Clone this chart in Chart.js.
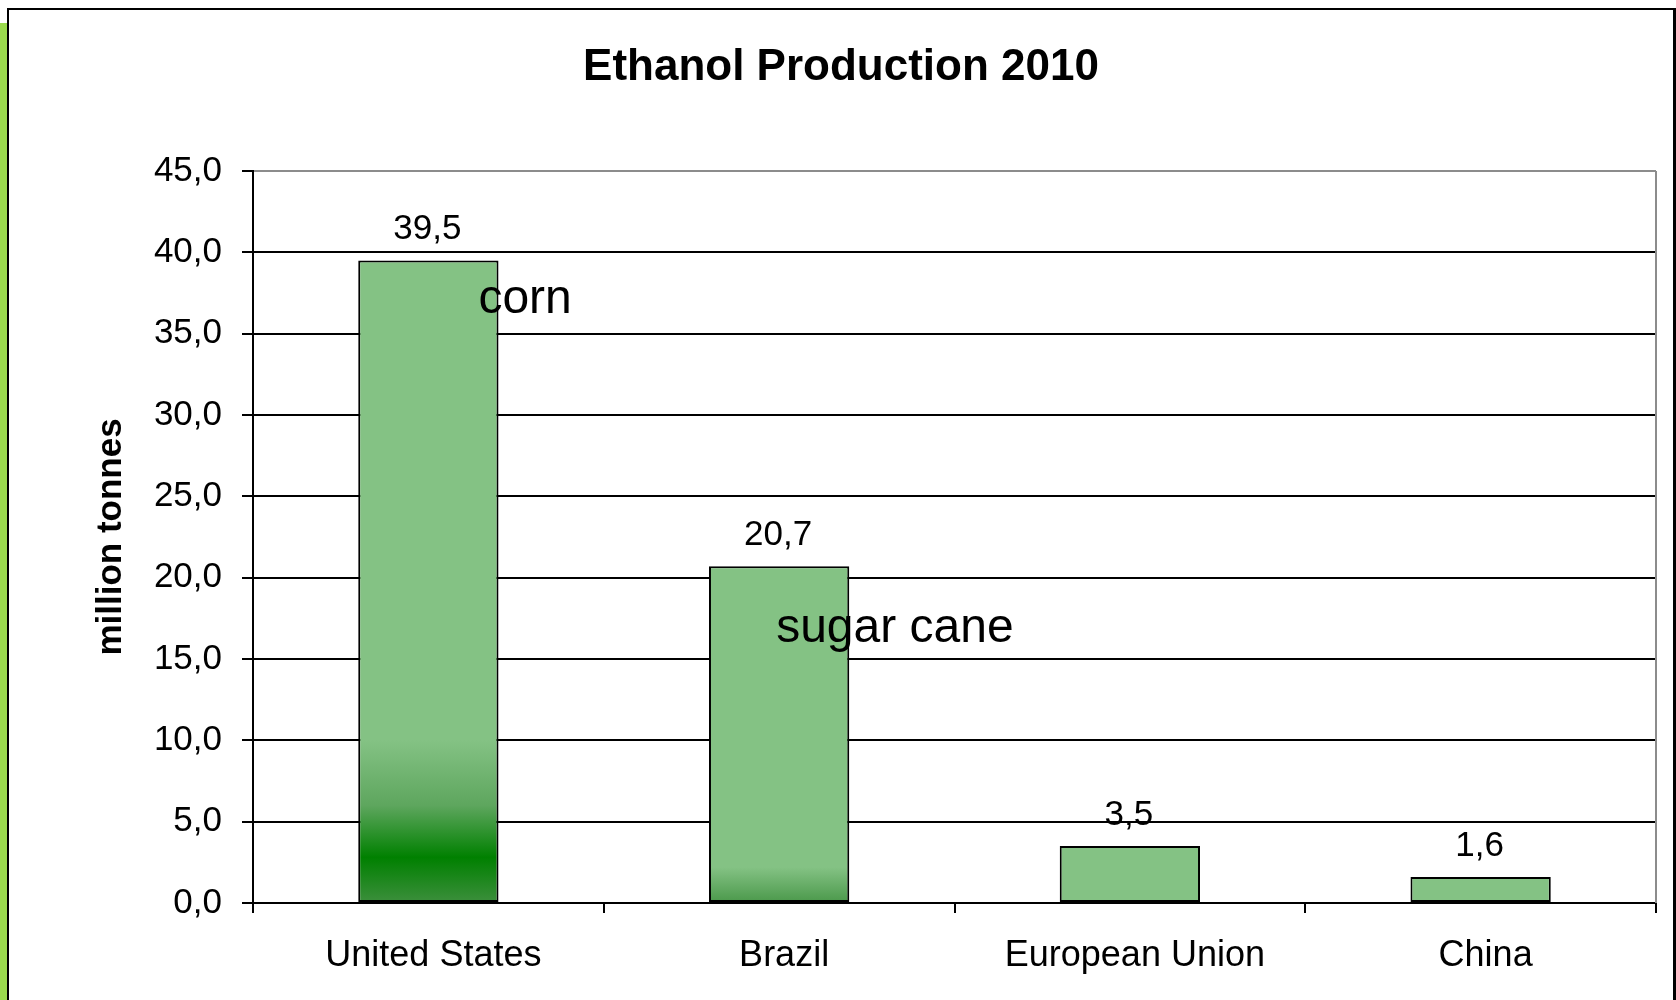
<!DOCTYPE html>
<html>
<head>
<meta charset="utf-8">
<title>Ethanol Production 2010</title>
<script src="https://cdn.jsdelivr.net/npm/chart.js@4/dist/chart.umd.min.js"></script>
<style>
  html, body { margin: 0; padding: 0; background: #fff; overflow: hidden; }
  #strip { position: absolute; left: 0; top: 23px; width: 7px; height: 1000px; background: #9bdb4d; }
  #frame { position: absolute; left: 7px; top: 8px; width: 1664px; height: 1100px;
           border: 2px solid #000; border-right-width: 3px; }
  #wrap { position: absolute; left: 0; top: 0; width: 1676px; height: 1000px; }
</style>
</head>
<body>
<div id="strip"></div>
<div id="frame"></div>
<div id="wrap"><canvas id="ethanolChart"></canvas></div>
<script>
// Ethanol production by country, million tonnes
const countries = ['United States', 'Brazil', 'European Union', 'China'];
const production = [39.5, 20.7, 3.5, 1.6];
const feedstock = ['corn', 'sugar cane', '', ''];
const yMax = 45;
const yStep = 5;

const FONT = "'Liberation Sans', Arial, sans-serif";
const LIGHT = '#84c284';

const fmt = v => v.toFixed(1).replace('.', ',');

// the two big producers fade to dark green near the base
function barFill(ctx) {
    const chart = ctx.chart;
    const y = chart.scales.y;
    const i = ctx.dataIndex;
    if (!chart.chartArea || !y || i > 1) return LIGHT;
    const top = y.getPixelForValue(production[i]);
    const base = y.getPixelForValue(0);
    const at = v => Math.min(1, Math.max(0, (y.getPixelForValue(v) - top) / (base - top)));
    const g = chart.ctx.createLinearGradient(0, top, 0, base);
    g.addColorStop(0, LIGHT);
    if (i === 0) {
        g.addColorStop(at(10), LIGHT);
        g.addColorStop(at(6), '#5ea65e');
        g.addColorStop(at(2.8), '#008000');
        g.addColorStop(1, '#3d8f3d');
    } else {
        g.addColorStop(at(2.2), LIGHT);
        g.addColorStop(1, '#4a984a');
    }
    return g;
}

const extras = {
    id: 'extras',
    afterDatasetsDraw(chart) {
        const { ctx, chartArea } = chart;
        const x = chart.scales.x;
        const y = chart.scales.y;
        ctx.save();
        ctx.fillStyle = '#000';

        // value labels above each bar
        ctx.font = '35px ' + FONT;
        ctx.textAlign = 'center';
        ctx.textBaseline = 'alphabetic';
        production.forEach((v, i) => {
            ctx.fillText(fmt(v), x.getPixelForValue(i) - 1, y.getPixelForValue(v) - 21);
        });

        // feedstock notes
        const notePos = [[50, 53], [-3, 76]];
        ctx.font = '48px ' + FONT;
        ctx.textAlign = 'left';
        feedstock.forEach((t, i) => {
            if (!t) return;
            const [dx, dy] = notePos[i];
            ctx.fillText(t, x.getPixelForValue(i) + dx, y.getPixelForValue(production[i]) + dy);
        });

        // plot area edge on the right
        ctx.strokeStyle = '#8c8c8c';
        ctx.lineWidth = 2;
        ctx.beginPath();
        ctx.moveTo(chartArea.right, chartArea.top);
        ctx.lineTo(chartArea.right, chartArea.bottom);
        ctx.stroke();

        // title
        ctx.font = 'bold 44px ' + FONT;
        ctx.textAlign = 'center';
        ctx.fillText('Ethanol Production 2010', 841, 80);
        ctx.restore();
    }
};

new Chart(document.getElementById('ethanolChart'), {
    type: 'bar',
    data: {
        labels: countries,
        datasets: [{
            label: 'Ethanol production',
            data: production,
            backgroundColor: barFill,
            borderColor: '#000',
            borderWidth: 2,
            borderSkipped: false,
            categoryPercentage: 1,
            barPercentage: 0.4
        }]
    },
    options: {
        responsive: true,
        maintainAspectRatio: false,
        animation: false,
        layout: { padding: { left: 90, right: 20, top: 171, bottom: 0 } },
        plugins: {
            legend: { display: false },
            title: { display: false },
            tooltip: { enabled: false }
        },
        scales: {
            x: {
                offset: true,
                afterFit: s => { s.height = 97; },
                grid: {
                    drawOnChartArea: false,
                    drawTicks: true,
                    tickLength: 10,
                    color: '#000',
                    lineWidth: 2
                },
                border: { color: '#000', width: 2 },
                ticks: {
                    color: '#000',
                    padding: 21,
                    labelOffset: 5,
                    font: { family: FONT, size: 36 }
                }
            },
            y: {
                min: 0,
                max: yMax,
                afterFit: s => { s.width = 163; },
                grid: {
                    color: c => (c.tick && c.tick.value === yMax ? '#8c8c8c' : '#000'),
                    tickColor: '#000',
                    lineWidth: 2,
                    tickLength: 11
                },
                border: { color: '#000', width: 2 },
                ticks: {
                    stepSize: yStep,
                    color: '#000',
                    padding: 20,
                    font: { family: FONT, size: 35 },
                    callback: v => fmt(v)
                },
                title: {
                    display: true,
                    text: 'million tonnes',
                    color: '#000',
                    padding: { top: 0, bottom: 22 },
                    font: { family: FONT, size: 35, weight: 'bold' }
                }
            }
        }
    },
    plugins: [extras]
});
</script>
</body>
</html>
